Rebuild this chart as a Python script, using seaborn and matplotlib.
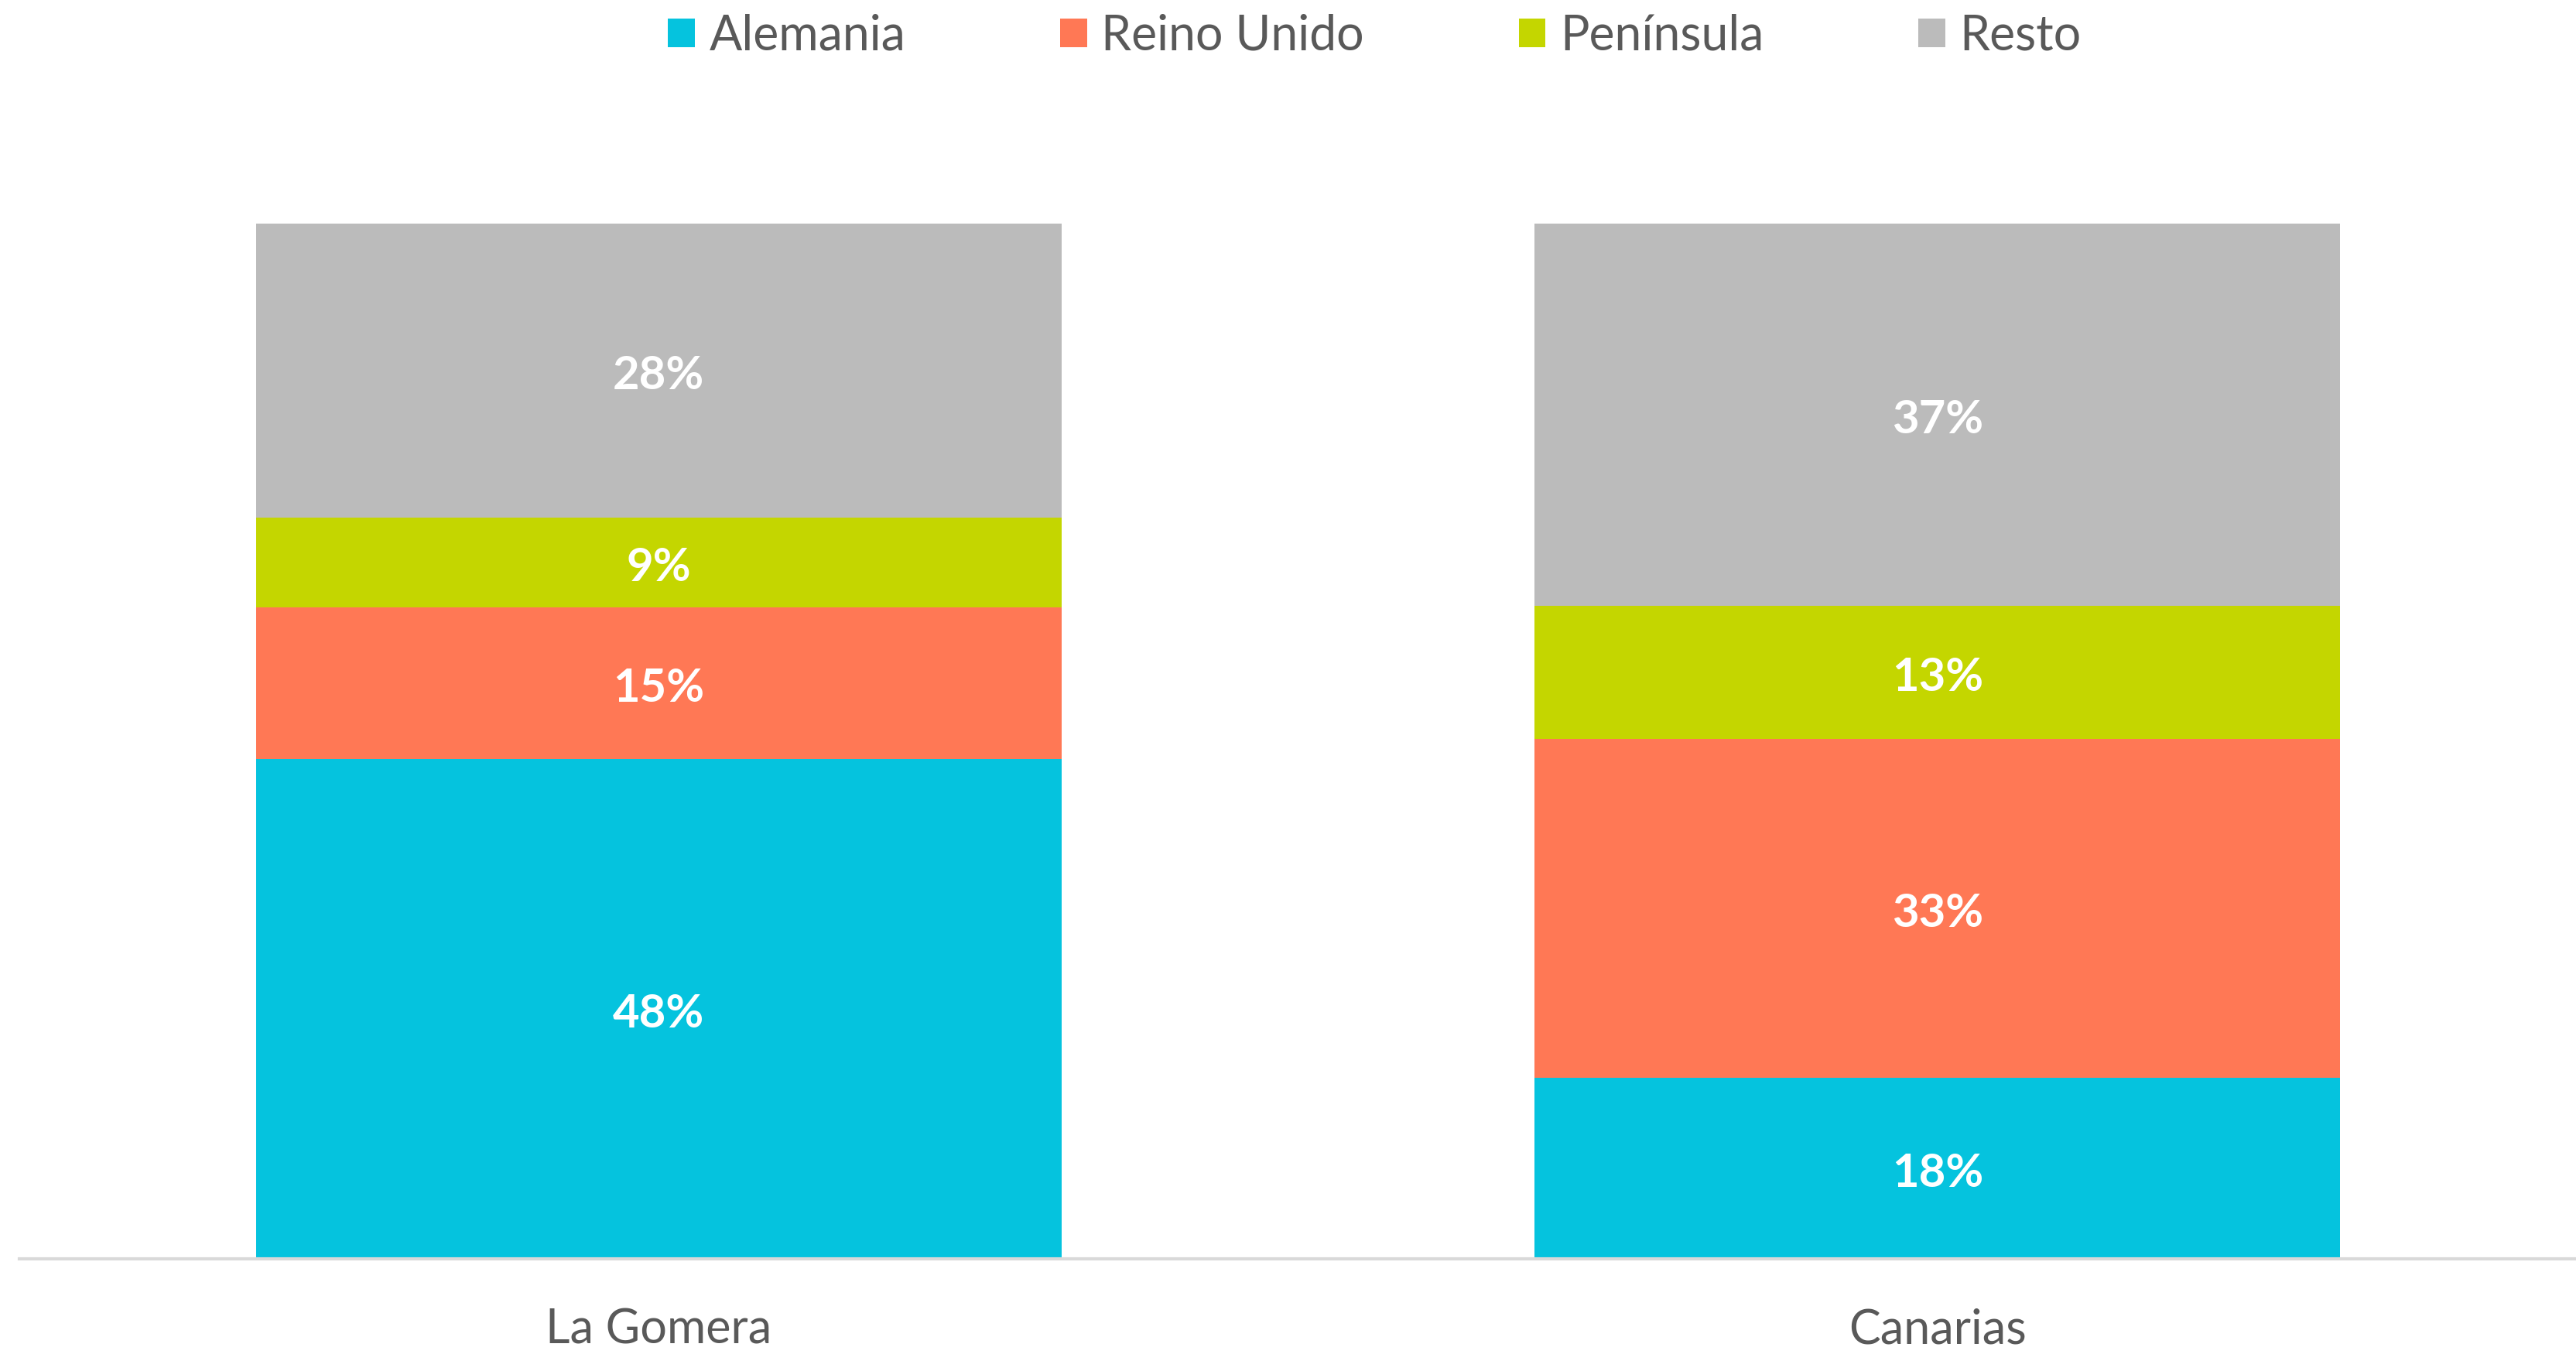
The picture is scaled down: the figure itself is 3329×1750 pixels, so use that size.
import numpy as np
import pandas as pd
import matplotlib
matplotlib.use("Agg")
import matplotlib.pyplot as plt
import seaborn as sns
from matplotlib.patches import Patch

categories = ["La Gomera", "Canarias"]
series = ["Alemania", "Reino Unido", "Península", "Resto"]
alemania = [48.3, 17.5]
reino_unido = [14.6, 32.7]
peninsula = [8.7, 12.9]
resto = [28.4, 36.9]
labels = {
    "Alemania": ["48%", "18%"],
    "Reino Unido": ["15%", "33%"],
    "Península": ["9%", "13%"],
    "Resto": ["28%", "37%"],
}
colors = {"Alemania": "#05C3DE", "Reino Unido": "#FF7855",
          "Península": "#C4D600", "Resto": "#BBBBBB"}

sns.set_theme(style="white")
plt.rcParams["font.family"] = ["Lato", "DejaVu Sans"]

values = {"Alemania": alemania, "Reino Unido": reino_unido,
          "Península": peninsula, "Resto": resto}
df = pd.DataFrame(values, index=categories)
cum = df.cumsum(axis=1)

fig = plt.figure(figsize=(33.3, 17.5), dpi=100)
ax = fig.add_axes([0.0075, 0.0703, 0.9925, 0.7646])

for s in reversed(series):
    d = pd.DataFrame({"cat": categories, "val": cum[s].values})
    sns.barplot(data=d, x="cat", y="val", color=colors[s], width=0.63,
                saturation=1, ax=ax, errorbar=None, linewidth=0)

for s in series:
    for i, c in enumerate(categories):
        mid = cum.loc[c, s] - df.loc[c, s] / 2
        ax.annotate(labels[s][i], xy=(i, mid), xytext=(0, -5),
                    textcoords="offset points", ha="center", va="center",
                    color="white", fontsize=43, fontweight="bold")

ax.set_xlim(-0.5, 1.5)
ax.set_ylim(0, 100)
ax.set_xlabel("")
ax.set_ylabel("")
ax.set_yticks([])
for sp in ["top", "right", "left"]:
    ax.spines[sp].set_visible(False)
ax.spines["bottom"].set_color("#D9D9D9")
ax.spines["bottom"].set_linewidth(3)
ax.tick_params(axis="x", length=0, pad=46, labelsize=44, labelcolor="#595959")

handles = [Patch(facecolor=colors[s], edgecolor="none", label=s) for s in series]
fig.legend(handles=handles, loc="upper center", bbox_to_anchor=(0.5335, 1.022),
           ncol=4, frameon=False, fontsize=45, labelcolor="#595959",
           handlelength=0.55, handleheight=0.55, handletextpad=0.3,
           columnspacing=3.2)

fig.savefig("out.png", dpi=100, facecolor="white")
